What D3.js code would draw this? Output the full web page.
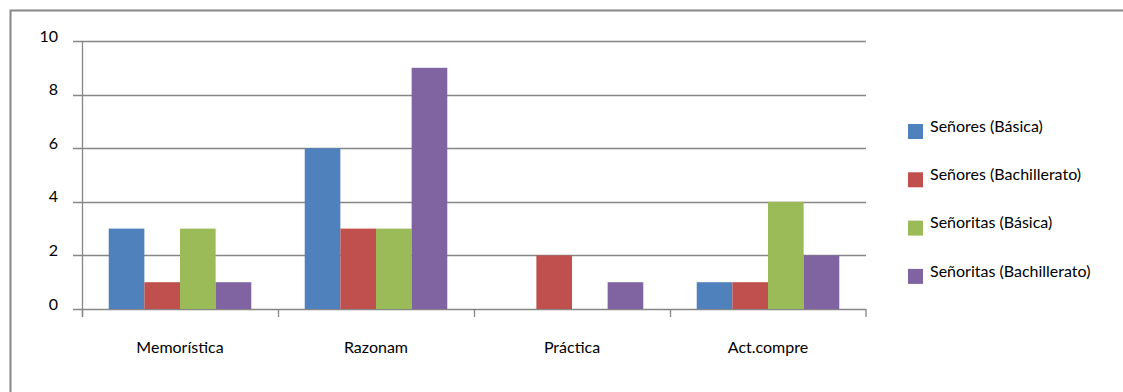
<!DOCTYPE html>
<html>
<head>
<meta charset="utf-8">
<script src="https://cdn.jsdelivr.net/npm/d3@7"></script>
<style>
  body { margin: 0; background: #fff; }
  svg text { font-family: Lato, "Liberation Sans", sans-serif; fill: #000; }
</style>
</head>
<body>
<div id="chart"></div>
<script>
var categories = ['Memorística', 'Razonam', 'Práctica', 'Act.compre'];
var seriesNames = ['Señores (Básica)', 'Señores (Bachillerato)', 'Señoritas (Básica)', 'Señoritas (Bachillerato)'];
var senoresBasica = [3, 6, 0, 1];
var senoresBach = [1, 3, 2, 1];
var senoritasBasica = [3, 3, 0, 4];
var senoritasBach = [1, 9, 1, 2];
var yTicks = [0, 2, 4, 6, 8, 10];
var colors = ['#4F81BD', '#C0504D', '#9BBB59', '#8064A2'];

var allSeries = [senoresBasica, senoresBach, senoritasBasica, senoritasBach];

var svg = d3.select('#chart')
            .append('svg')
            .attr('width', 1123)
            .attr('height', 392);

// outer frame
svg.append('rect')
   .attr('x', 10.5)
   .attr('y', 10.5)
   .attr('width', 1120)
   .attr('height', 390)
   .style('fill', 'none')
   .style('stroke', '#868686')
   .style('stroke-width', 2);

var x = d3.scaleBand().domain(categories).range([82, 866]);
var xi = d3.scaleBand().domain(d3.range(4)).range([0, x.bandwidth()]).paddingOuter(0.75);
var y = d3.scaleLinear().domain([0, 10]).range([309, 41]);

// gridlines and y ticks
svg.selectAll('.grid')
   .data(yTicks)
   .enter()
   .append('line')
   .attr('x1', 73)
   .attr('x2', 866)
   .attr('y1', function(d){return Math.round(y(d)) + 0.5;})
   .attr('y2', function(d){return Math.round(y(d)) + 0.5;})
   .style('stroke', '#868686')
   .style('stroke-width', 1.3);

svg.selectAll('.ylab')
   .data(yTicks)
   .enter()
   .append('text')
   .attr('x', 58)
   .attr('y', function(d){return y(d) - 5;})
   .attr('dy', '0.35em')
   .attr('text-anchor', 'end')
   .style('font-size', '16px')
   .text(function(d){return d;});

// bars
categories.forEach(function(c, ci) {
   svg.selectAll('.bar' + ci)
      .data(allSeries.map(function(s){return s[ci];}))
      .enter()
      .append('rect')
      .attr('x', function(d, i){return x(c) + xi(i);})
      .attr('y', function(d){return y(d);})
      .attr('width', xi.bandwidth())
      .attr('height', function(d){return y(0) - y(d);})
      .style('fill', function(d, i){return colors[i];})
      .style('display', function(d){return d > 0 ? null : 'none';});
});

// axes
svg.append('line')
   .attr('x1', 82.5).attr('x2', 82.5)
   .attr('y1', 41).attr('y2', 317)
   .style('stroke', '#868686')
   .style('stroke-width', 1.3);

svg.selectAll('.xtick')
   .data(categories.concat(['end']))
   .enter()
   .append('line')
   .attr('x1', function(d){return d === 'end' ? 866 : Math.round(x(d)) + 0.5;})
   .attr('x2', function(d){return d === 'end' ? 866 : Math.round(x(d)) + 0.5;})
   .attr('y1', 309)
   .attr('y2', 317)
   .style('stroke', '#868686')
   .style('stroke-width', 1.3);

svg.selectAll('.xlab')
   .data(categories)
   .enter()
   .append('text')
   .attr('x', function(d){return x(d) + x.bandwidth() / 2;})
   .attr('y', 347)
   .attr('dy', '0.35em')
   .attr('text-anchor', 'middle')
   .style('font-size', '16px')
   .text(function(d){return d;});

// legend
var legend = svg.selectAll('.legend')
                .data(seriesNames)
                .enter()
                .append('g')
                .attr('transform', function(d, i){return 'translate(908,' + (124 + i * 48.3) + ')';});

legend.append('rect')
      .attr('width', 15)
      .attr('height', 15)
      .style('fill', function(d, i){return colors[i];});

legend.append('text')
      .attr('x', 22)
      .attr('y', 2)
      .attr('dy', '0.35em')
      .style('font-size', '16px')
      .text(function(d){return d;});
</script>
</body>
</html>
